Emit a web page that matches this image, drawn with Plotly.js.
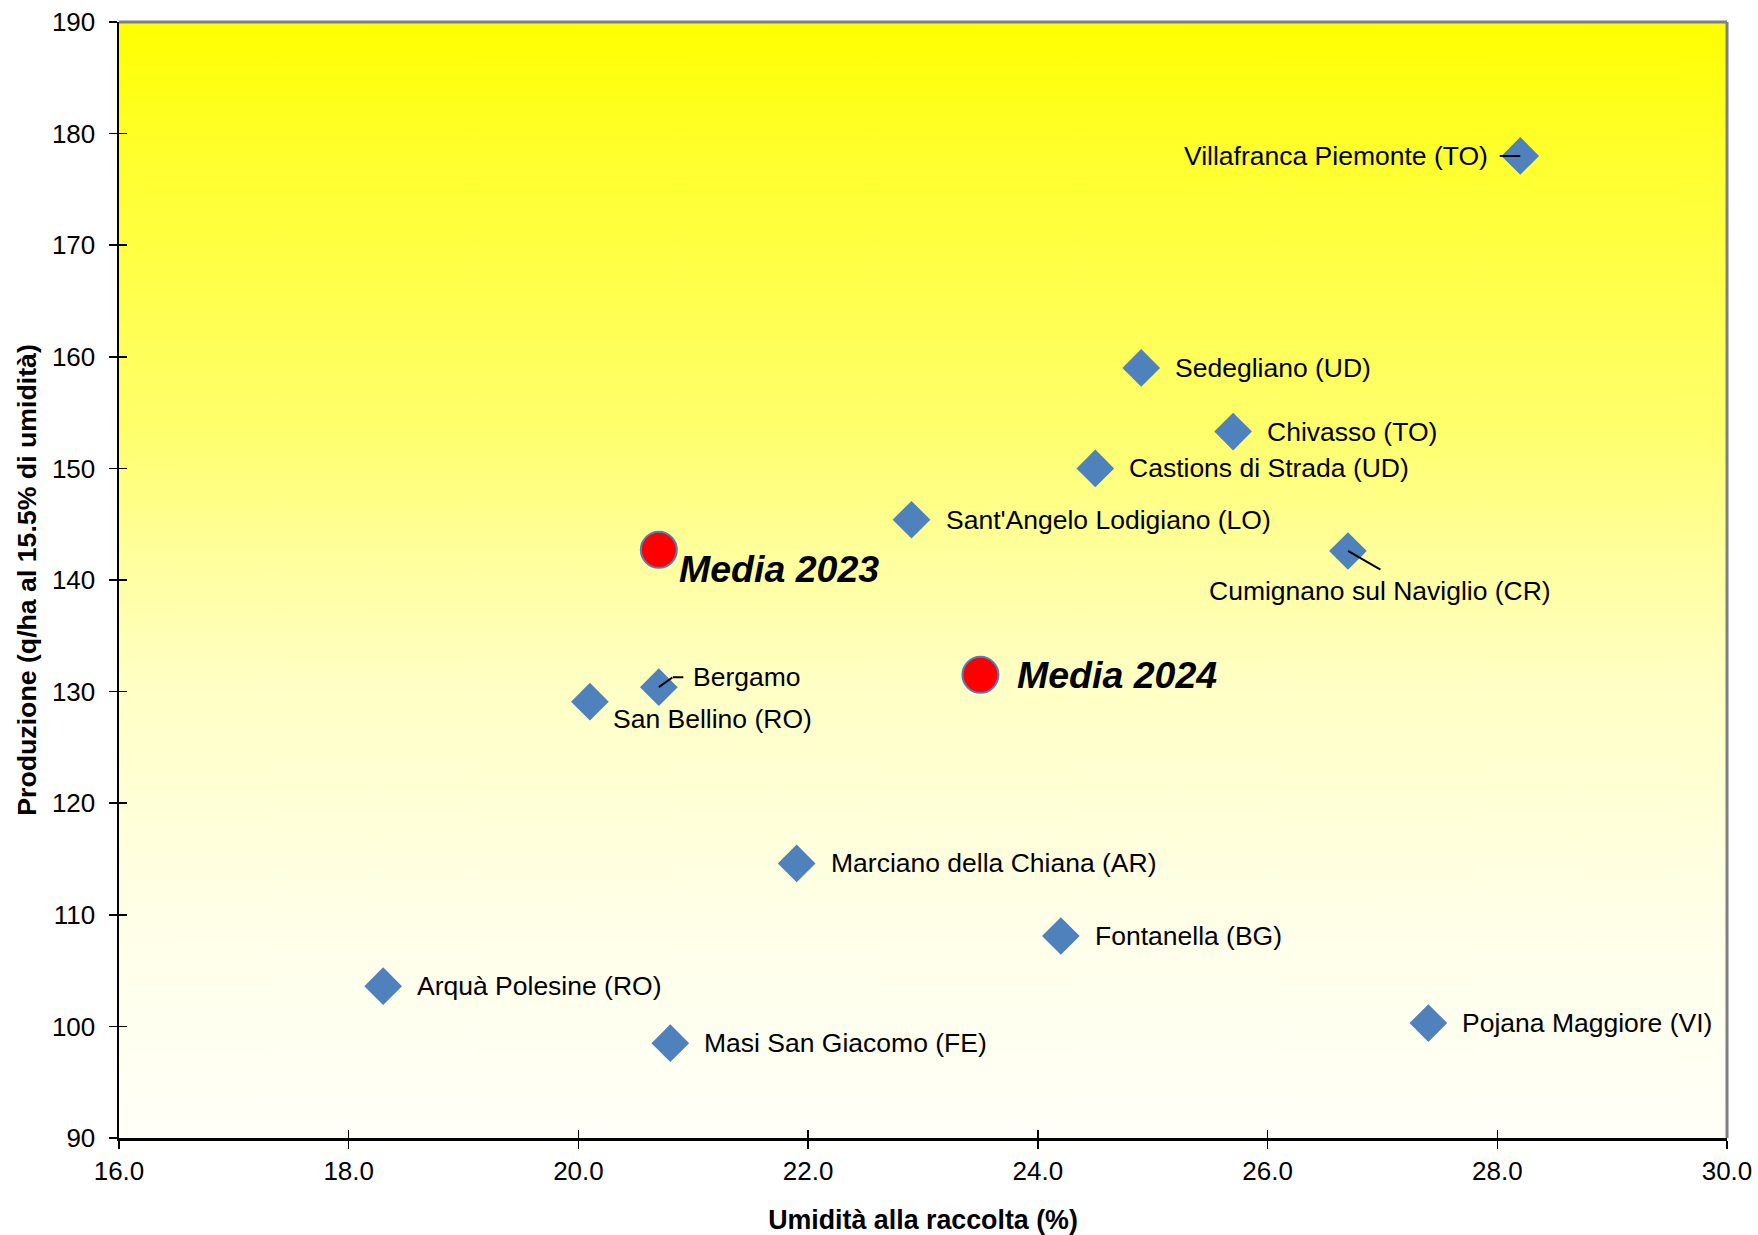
<!DOCTYPE html>
<html>
<head>
<meta charset="utf-8">
<script src="https://cdn.plot.ly/plotly-3.0.1.min.js"></script>
<style>
html,body{margin:0;padding:0;background:#fff;}
#chart{width:1758px;height:1235px;}
</style>
</head>
<body>
<div id="chart"></div>
<script>
// ---- Data ----
const siteNames = [
  "Villafranca Piemonte (TO)",
  "Sedegliano (UD)",
  "Chivasso (TO)",
  "Castions di Strada (UD)",
  "Sant'Angelo Lodigiano (LO)",
  "Cumignano sul Naviglio (CR)",
  "Bergamo",
  "San Bellino (RO)",
  "Marciano della Chiana (AR)",
  "Fontanella (BG)",
  "Arquà Polesine (RO)",
  "Masi San Giacomo (FE)",
  "Pojana Maggiore (VI)"
];
const siteUmidita = [28.2, 24.9, 25.7, 24.5, 22.9, 26.7, 20.7, 20.1, 21.9, 24.2, 18.3, 20.8, 27.4];
const siteProduzione = [178.0, 159.0, 153.3, 150.0, 145.4, 142.6, 130.4, 129.1, 114.6, 108.1, 103.6, 98.5, 100.3];

const mediaNames = ["Media 2023", "Media 2024"];
const mediaUmidita = [20.7, 23.5];
const mediaProduzione = [142.7, 131.5];

const xTitle = "Umidità alla raccolta (%)";
const yTitle = "Produzione (q/ha al 15.5% di umidità)";

// ---- Label placement (style only: pixel offsets from each point) ----
const defaultLabel = {xanchor: "left", xshift: 32, yshift: 0};
const labelStyle = {
  "Villafranca Piemonte (TO)": {xanchor: "right", xshift: -30, yshift: 0},
  "Cumignano sul Naviglio (CR)": {xanchor: "center", xshift: 32, yshift: -40},
  "Bergamo": {xanchor: "left", xshift: 32, yshift: 10},
  "San Bellino (RO)": {xanchor: "left", xshift: 21, yshift: -17},
  "Media 2023": {xanchor: "left", xshift: 18, yshift: -19},
  "Media 2024": {xanchor: "left", xshift: 35, yshift: 0}
};
// leader lines: list of [ax, ay, xshift, yshift] pixel segments per site
const leaders = {
  "Villafranca Piemonte (TO)": [[-21, 0, 0, 0]],
  "Cumignano sul Naviglio (CR)": [[33, 19, 0, 0]],
  "Bergamo": [[14, -10, 0, 0], [11, 0, 14, 10]]
};

// ---- Gradient background image ----
function gradientImage() {
  const c = document.createElement("canvas");
  c.width = 16; c.height = 512;
  const g = c.getContext("2d");
  const lg = g.createLinearGradient(0, 0, 0, 512);
  lg.addColorStop(0.0, "#FFFF00");
  lg.addColorStop(0.12, "#FFFF2E");
  lg.addColorStop(0.37, "#FFFF6E");
  lg.addColorStop(0.48, "#FFFF9E");
  lg.addColorStop(0.59, "#FFFFC4");
  lg.addColorStop(0.80, "#FFFFE8");
  lg.addColorStop(1.0, "#FFFFF8");
  g.fillStyle = lg;
  g.fillRect(0, 0, 16, 512);
  return c.toDataURL("image/png");
}

const FONT = "Liberation Sans, Arial, sans-serif";

const traces = [
  {
    type: "scatter", mode: "markers",
    x: siteUmidita, y: siteProduzione, text: siteNames,
    marker: {symbol: "diamond", size: 29, color: "#4F81BD", line: {width: 0}},
    hoverinfo: "text+x+y", showlegend: false
  },
  {
    type: "scatter", mode: "markers",
    x: mediaUmidita, y: mediaProduzione, text: mediaNames,
    marker: {symbol: "circle", size: 36, color: "#FF0000", line: {width: 2, color: "#4F81BD"}},
    hoverinfo: "text+x+y", showlegend: false
  },
  {
    type: "scatter", mode: "markers", x: [], y: [],
    xaxis: "x2", yaxis: "y2", showlegend: false, hoverinfo: "skip"
  }
];

const annotations = [];
siteNames.forEach((n, i) => {
  const s = labelStyle[n] || defaultLabel;
  annotations.push({
    x: siteUmidita[i], y: siteProduzione[i], xref: "x", yref: "y",
    text: n, showarrow: false, xanchor: s.xanchor, yanchor: "middle",
    xshift: s.xshift, yshift: s.yshift,
    font: {family: FONT, size: 26.5, color: "#000"}
  });
  (leaders[n] || []).forEach(seg => {
    annotations.push({
      x: siteUmidita[i], y: siteProduzione[i], xref: "x", yref: "y",
      text: "", showarrow: true, arrowhead: 0, arrowwidth: 2, arrowcolor: "#000",
      ax: seg[0], ay: seg[1], xshift: seg[2], yshift: seg[3], standoff: 0, borderpad: 0
    });
  });
});
mediaNames.forEach((n, i) => {
  const s = labelStyle[n] || defaultLabel;
  annotations.push({
    x: mediaUmidita[i], y: mediaProduzione[i], xref: "x", yref: "y",
    text: "<b><i>" + n + "</i></b>", showarrow: false, xanchor: s.xanchor, yanchor: "middle",
    xshift: s.xshift, yshift: s.yshift,
    font: {family: FONT, size: 37.5, color: "#000"}
  });
});

const axisCommon = {
  showgrid: false, zeroline: false, ticks: "outside", ticklen: 8, tickwidth: 1.5,
  tickcolor: "#000", showline: true, linecolor: "#000", linewidth: 2.5,
  tickfont: {family: FONT, size: 26, color: "#000"}
};

const layout = {
  width: 1758, height: 1235,
  margin: {l: 119, r: 31, t: 22, b: 97},
  paper_bgcolor: "#FFFFFF",
  plot_bgcolor: "rgba(0,0,0,0)",
  showlegend: false,
  xaxis: Object.assign({}, axisCommon, {
    range: [16, 30], dtick: 2, tick0: 16, tickformat: ".1f",
    ticklabelstandoff: 0,
    title: {text: "<b>" + xTitle + "</b>", font: {family: FONT, size: 26.8, color: "#000"}, standoff: 28}
  }),
  yaxis: Object.assign({}, axisCommon, {
    range: [90, 190], dtick: 10, tick0: 90,
    ticklabelstandoff: 8,
    title: {text: "<b>" + yTitle + "</b>", font: {family: FONT, size: 26.7, color: "#000"}, standoff: 8}
  }),
  xaxis2: {
    overlaying: "x", matches: "x", anchor: "y2", range: [16, 30], dtick: 2, tick0: 16,
    showgrid: false, zeroline: false, showline: false, showticklabels: false,
    ticks: "inside", ticklen: 8, tickwidth: 1.5, tickcolor: "#000"
  },
  yaxis2: {
    overlaying: "y", matches: "y", anchor: "x2", range: [90, 190], dtick: 10, tick0: 90,
    showgrid: false, zeroline: false, showline: false, showticklabels: false,
    ticks: "inside", ticklen: 8, tickwidth: 1.5, tickcolor: "#000"
  },
  images: [{
    source: gradientImage(), xref: "paper", yref: "paper",
    x: 0, y: 1, sizex: 1, sizey: 1, sizing: "stretch",
    xanchor: "left", yanchor: "top", layer: "below"
  }],
  shapes: [
    {type: "line", xref: "paper", yref: "paper", x0: 0, x1: 1, y0: 1, y1: 1, line: {color: "#808080", width: 3}},
    {type: "line", xref: "paper", yref: "paper", x0: 1, x1: 1, y0: 0, y1: 1, line: {color: "#808080", width: 3}}
  ],
  annotations: annotations
};

Plotly.newPlot("chart", traces, layout, {displayModeBar: false, staticPlot: true});
</script>
</body>
</html>
